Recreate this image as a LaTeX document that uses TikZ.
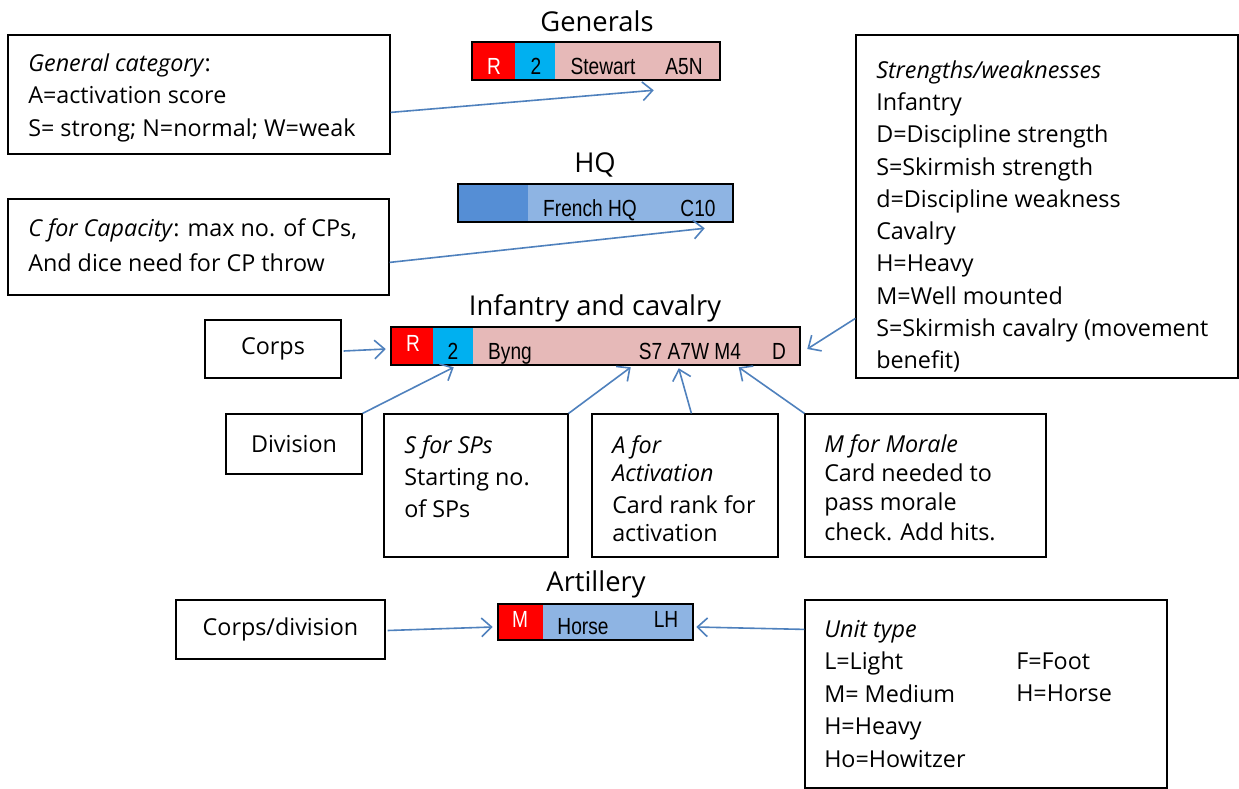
\documentclass[tikz,border=0pt]{standalone}
\usepackage{fontspec}
\usepackage{graphicx}
\setmainfont{Open Sans}
\newfontfamily\barfont{Liberation Sans}
\usetikzlibrary{arrows.meta,fit,calc}
\definecolor{arrblue}{HTML}{4F81BD}
\definecolor{segred}{HTML}{FF0000}
\definecolor{segcyan}{HTML}{00B0F0}
\definecolor{segpink}{HTML}{E6B9B8}
\definecolor{hqdark}{HTML}{558ED5}
\definecolor{hqlight}{HTML}{8EB4E3}
\newcommand{\fr}{\rule{0pt}{15pt}}
\newcommand{\nb}[1]{\scalebox{0.82}[1]{#1}}
\begin{document}
\begin{tikzpicture}[x=0.75pt,y=-0.75pt,
  box/.style={draw=black, line width=0.9pt, inner sep=0pt},
  bar/.style={draw=black, line width=1.9pt, inner sep=0pt},
  txt/.style={anchor=north west, yshift=15pt, align=left, inner sep=0pt, font=\fontsize{17.5}{#1}\selectfont},
  txt/.default=24.4pt,
  lbl/.style={anchor=center, inner sep=0pt, font=\fontsize{17.5}{20}\selectfont},
  ttl/.style={anchor=base, inner sep=0pt, font=\fontsize{20.5}{24}\selectfont},
  bt/.style={anchor=base, inner sep=0pt, font=\barfont\fontsize{17.5}{20}\selectfont},
  conn/.style={draw=arrblue, line width=1.2pt, -{Straight Barb[length=7.5pt,width=14pt,line width=1.2pt]}}
]
\useasboundingbox (0,0) rectangle (1239,789);
\fill[white] (0,0) rectangle (1239,789);

% ---------- Generals ----------
\node[ttl] (tgen) at (597,31) {Generals};
\fill[segred] (472,42) rectangle (515,80);
\fill[segcyan] (515,42) rectangle (555,80);
\fill[segpink] (555,42) rectangle (720,80);
\node[bar, fit={(472,42) (720,80)}] (genbar) {};
\node[bt, text=white] (gR) at (494,74) {\nb{R}};
\node[bt] (g2) at (536,74) {\nb{2}};
\node[bt] (gname) at (603,74) {\nb{Stewart}};
\node[bt] (gcode) at (684,74) {\nb{A5N}};

\node[box, fit={(8,35) (390,154)}] (gencat) {};
\node[txt] (gencatt) at (28,71) {\fr\textit{General category}:\\A=activation score\\S= strong; N=normal; W=weak};

% ---------- HQ ----------
\node[ttl] (thq) at (595,172) {HQ};
\fill[hqdark] (458,184) rectangle (528,222);
\fill[hqlight] (528,184) rectangle (733,222);
\node[bar, fit={(458,184) (733,222)}] (hqbar) {};
\node[bt] (hqname) at (590,216) {\nb{French HQ}};
\node[bt] (hqcode) at (698,216) {\nb{C10}};

\node[box, fit={(8,199) (389,295)}] (cbox) {};
\node[txt=26.3pt] (cboxt) at (28,236) {\fr\textit{C for Capacity}: max no. of CPs,\\And dice need for CP throw};

% ---------- Infantry and cavalry ----------
\node[ttl] (tinf) at (595,315) {Infantry and cavalry};
\fill[segred] (391,327) rectangle (433,365);
\fill[segcyan] (433,327) rectangle (473,365);
\fill[segpink] (473,327) rectangle (800,365);
\node[bar, fit={(391,327) (800,365)}] (infbar) {};
\node[bt, text=white] (iR) at (413,351) {\nb{R}};
\node[bt] (i2) at (453,359) {\nb{2}};
\node[bt] (iname) at (510,359) {\nb{Byng}};
\node[bt] (icode) at (690,359) {\nb{S7 A7W M4}};
\node[bt] (iD) at (779,359) {\nb{D}};

\node[box, fit={(205,320) (341,378)}] (corps) {};
\node[lbl] (corpst) at (corps.center) {Corps};
\node[box, fit={(226,414) (362,474)}] (division) {};
\node[lbl] (divisiont) at (division.center) {Division};

\node[box, fit={(384,414) (568,557)}] (sbox) {};
\node[txt=24pt] (sboxt) at (404,453) {\fr\textit{S for SPs}\\Starting no.\\of SPs};
\node[box, fit={(592,414) (778,557)}] (abox) {};
\node[txt=21pt] (aboxt) at (612,453) {\fr\textit{A for}\\\textit{Activation}\\[3.5pt]Card rank for\\activation};
\node[box, fit={(805,414) (1046,557)}] (mbox) {};
\node[txt=22pt] (mboxt) at (824,452) {\fr\textit{M for Morale}\\Card needed to\\pass morale\\check. Add hits.};

\node[box, fit={(856,35) (1238,378)}] (strbox) {};
\node[txt=24.2pt] (strboxt) at (876,78) {\fr\textit{Strengths/weaknesses}\\Infantry\\D=Discipline strength\\S=Skirmish strength\\d=Discipline weakness\\Cavalry\\H=Heavy\\M=Well mounted\\S=Skirmish cavalry (movement\\benefit)};

% ---------- Artillery ----------
\node[ttl] (tart) at (596,591) {Artillery};
\fill[segred] (498,604) rectangle (543,640);
\fill[hqlight] (543,604) rectangle (693,640);
\node[bar, fit={(498,604) (693,640)}] (artbar) {};
\node[bt, text=white] (aM) at (520,627) {\nb{M}};
\node[bt] (aname) at (583,634) {\nb{Horse}};
\node[bt] (acode) at (666,627) {\nb{LH}};

\node[box, fit={(176,600) (385,659)}] (corpsdiv) {};
\node[lbl] (corpsdivt) at (corpsdiv.center) {Corps/division};

\node[box, fit={(805,600) (1167,788)}] (unitbox) {};
\node[txt] (unitt) at (824,637) {\fr\textit{Unit type}\\L=Light\\M= Medium\\H=Heavy\\Ho=Howitzer};
\node[txt] (unitt2) at (1016,669) {\fr F=Foot\\H=Horse};

% ---------- connectors ----------
\draw[conn] ($(gencat.north east)+(0,78)$) -- ($(genbar.south west)+(183,9)$);
\draw[conn] ($(cbox.north east)+(0,64)$) -- ($(hqbar.south west)+(248,5)$);
\draw[conn] ($(corps.east)+(2,2)$) -- ($(infbar.west)+(-4,3)$);
\draw[conn] (division.north east) -- ($(infbar.south west)+(64,1)$);
\draw[conn] (sbox.north east) -- ($(infbar.south west)+(241,1)$);
\draw[conn] ($(abox.north west)+(100,0)$) -- ($(infbar.south west)+(289,2)$);
\draw[conn] (mbox.north west) -- ($(infbar.south west)+(349,1)$);
\draw[conn] ($(strbox.north west)+(0,284)$) -- ($(infbar.east)+(6,3)$);
\draw[conn] ($(corpsdiv.east)+(2,1)$) -- ($(artbar.west)+(-4,5)$);
\draw[conn] ($(unitbox.north west)+(0,30)$) -- ($(artbar.east)+(2,5)$);
\end{tikzpicture}
\end{document}
